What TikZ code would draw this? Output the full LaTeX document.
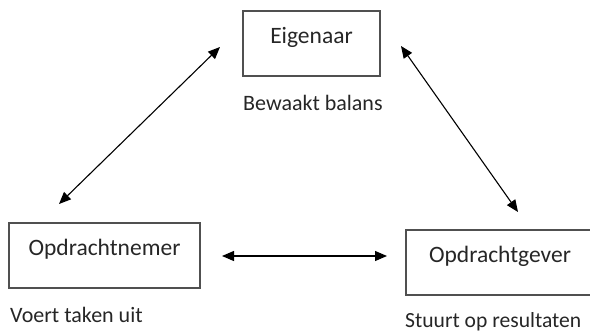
\documentclass[tikz,border=0pt]{standalone}
\usepackage{fontspec}
\setmainfont{Carlito}
\usetikzlibrary{arrows.meta}
\definecolor{boxline}{HTML}{505050}
\definecolor{txt}{HTML}{262626}
\begin{document}
\begin{tikzpicture}[x=1pt,y=-1pt,
  rolebox/.style={draw=boxline,line width=1.4pt,text=txt,
    font=\fontsize{23.5}{28}\selectfont,
    text height=24pt,text depth=25pt,inner ysep=8pt,inner xsep=0pt,anchor=base},
  rolenote/.style={text=txt,font=\fontsize{22}{26}\selectfont,
    inner sep=0pt,anchor=base west},
  link/.style={line width=1.1pt,{Triangle[length=12pt,width=10pt]}-{Triangle[length=12pt,width=10pt]}}]
  \useasboundingbox (0,0) rectangle (590,332);
  % roles
  \node[rolebox,minimum width=137pt] (eig) at (311.5,43) {Eigenaar};
  \node[rolebox,minimum width=191pt] (nem) at (104.5,255) {Opdrachtnemer};
  \node[rolebox,minimum width=188pt] (gev) at (500,262) {Opdrachtgever};
  % role descriptions
  \node[rolenote] (eignote) at (243,110) {Bewaakt balans};
  \node[rolenote] (nemnote) at (10,322) {Voert taken uit};
  \node[rolenote,font=\fontsize{21.6}{26}\selectfont] (gevnote) at (405,327) {Stuurt op resultaten};
  % arrow ends
  \coordinate (l1) at (59,204);
  \coordinate (l2) at (220,47);
  \coordinate (r1) at (401,46);
  \coordinate (r2) at (518,212);
  \coordinate (h1) at (222,256);
  \coordinate (h2) at (387,256);
  \draw[link] (l1) -- (l2);
  \draw[link] (r1) -- (r2);
  \draw[link] (h1) -- (h2);
\end{tikzpicture}
\end{document}
